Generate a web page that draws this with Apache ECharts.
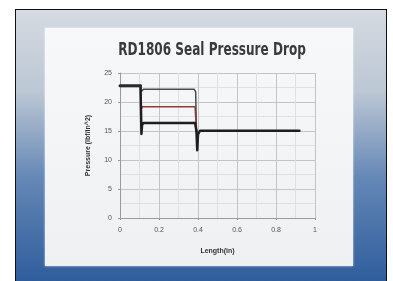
<!DOCTYPE html>
<html>
<head>
<meta charset="utf-8">
<script src="https://cdn.jsdelivr.net/npm/echarts@6/dist/echarts.min.js"></script>
<style>
    html, body { margin: 0; padding: 0; background: #ffffff; }
    #wrap { position: relative; width: 393px; height: 281px; overflow: hidden; }
    #frame {
        position: absolute; left: 15px; top: 9px; width: 370px; height: 272px;
        border-left: 1px solid #111; border-top: 1px solid #111; border-right: 1px solid #111;
        background: linear-gradient(#d5dae0 0%, #bcc7d4 30%, #6487b6 62%, #2f5d9c 100%);
    }
    #slide {
        position: absolute; left: 45px; top: 28px; width: 308px; height: 238px;
        background: linear-gradient(#f7f8f9 0%, #eef0f1 100%);
        box-shadow: 0 0 2px rgba(255,255,255,0.8);
    }
    #main { position: absolute; left: 0; top: 0; width: 393px; height: 281px; }
</style>
</head>
<body>
<div id="wrap">
    <div id="frame"></div>
    <div id="slide"></div>
    <div id="main"></div>
</div>
<script>
// common inlet segment
var headX = [0, 0.105];
var headY = [22.8, 22.8];
// upper branch (thin grey)
var upperX = [0.105, 0.11, 0.115, 0.12, 0.38, 0.388, 0.392];
var upperY = [22.8, 21.8, 22.1, 22.2, 22.2, 21.8, 15];
// middle branch (red)
var redX = [0.105, 0.11, 0.115, 0.385, 0.392];
var redY = [22.8, 18.8, 19.2, 19.2, 15];
// lower branch (thick black)
var lowX = [0.105, 0.11, 0.113, 0.12, 0.385, 0.392];
var lowY = [22.8, 14.5, 16.0, 16.4, 16.4, 15];
// outlet segment
var tailX = [0.392, 0.396, 0.40, 0.41, 0.92];
var tailY = [15, 11.7, 14.4, 15.05, 15.05];

var yTicks = [0, 5, 10, 15, 20, 25];
var xTicks = [0, 0.2, 0.4, 0.6, 0.8, 1];

function pairs(xs, ys) {
    var out = [];
    for (var i = 0; i < xs.length; i++) {
        out.push([xs[i], ys[i]]);
    }
    return out;
}

function lineSeries(xs, ys, color, width) {
    return {
        type: 'line',
        data: pairs(xs, ys),
        showSymbol: false,
        symbol: 'none',
        smooth: false,
        lineStyle: { color: color, width: width, cap: 'round', join: 'round' },
        animation: false
    };
}

var chart = echarts.init(document.getElementById('main'));

var option = {
    backgroundColor: 'transparent',
    animation: false,
    // title drawn as graphic text so it can be squeezed like the condensed original
    graphic: [{
        type: 'text',
        x: 212,
        y: 51,
        scaleX: 0.71,
        style: {
            text: 'RD1806 Seal Pressure Drop',
            align: 'center',
            verticalAlign: 'middle',
            font: 'bold 17px "DejaVu Sans", sans-serif',
            fill: '#3a3a3a'
        }
    }],
    grid: { left: 120, right: 78, top: 73, bottom: 63 },
    xAxis: {
        type: 'value',
        min: 0, max: 1, interval: 0.2,
        name: 'Length(in)',
        nameLocation: 'middle',
        nameGap: 30,
        nameTextStyle: { fontSize: 7, fontWeight: 'bold', color: '#333', fontFamily: 'Liberation Sans' },
        axisLine: { lineStyle: { color: '#9a9a9a', width: 1 } },
        axisTick: { show: true, length: 2, lineStyle: { color: '#9a9a9a' } },
        axisLabel: {
            fontSize: 7, color: '#555', margin: 9, fontFamily: 'Liberation Sans',
            formatter: function (v) { return String(+v.toFixed(1)); }
        },
        splitLine: { show: true, lineStyle: { color: '#c4c4c4', width: 1 } },
        minorTick: { show: false, splitNumber: 2 },
        minorSplitLine: { show: true, lineStyle: { color: '#e0e0e0', width: 1 } }
    },
    yAxis: {
        type: 'value',
        min: 0, max: 25, interval: 5,
        name: 'Pressure (lbf/in^2)',
        nameLocation: 'middle',
        nameGap: 28,
        nameTextStyle: { fontSize: 7, fontWeight: 'bold', color: '#333', fontFamily: 'Liberation Sans' },
        axisLine: { show: true, lineStyle: { color: '#9a9a9a', width: 1 } },
        axisTick: { show: true, length: 2, lineStyle: { color: '#9a9a9a' } },
        axisLabel: { fontSize: 7, color: '#555', margin: 8, fontFamily: 'Liberation Sans' },
        splitLine: { show: true, lineStyle: { color: '#c4c4c4', width: 1 } },
        minorTick: { show: false, splitNumber: 2 },
        minorSplitLine: { show: true, lineStyle: { color: '#e0e0e0', width: 1 } }
    },
    series: [
        lineSeries(upperX, upperY, '#4a4a4a', 1.5),
        lineSeries(redX, redY, '#8e3a3a', 1.5),
        lineSeries(lowX, lowY, '#1e1e1e', 2.5),
        lineSeries(headX, headY, '#2a2a2a', 3),
        lineSeries(tailX, tailY, '#1e1e1e', 2.5)
    ]
};

chart.setOption(option);
window.addEventListener('resize', function () {
    chart.resize();
});
</script>
</body>
</html>
